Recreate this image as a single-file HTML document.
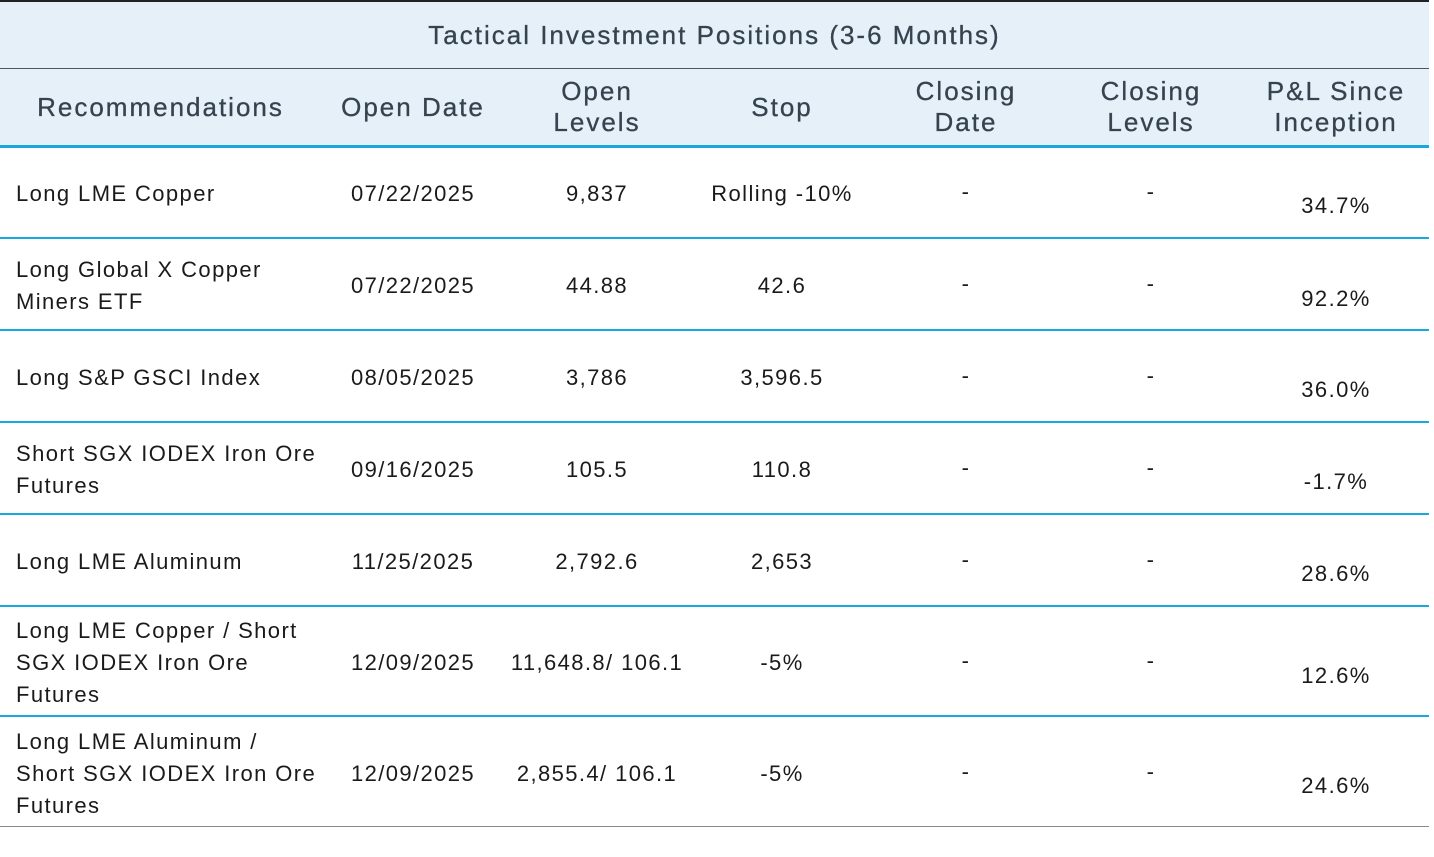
<!DOCTYPE html>
<html><head><meta charset="utf-8"><style>
body{margin:0;width:1434px;height:857px;background:#fff;font-family:"Liberation Sans",sans-serif;position:relative;overflow:hidden}
.a{position:absolute}
.t{position:absolute;color:#1a1a1a;font-size:22px;line-height:32px;letter-spacing:1.4px;white-space:nowrap}
.c{text-align:center;width:184px}
.h{position:absolute;color:#36434f;font-size:26px;line-height:31px;text-align:center;width:184px;letter-spacing:2px;white-space:nowrap;-webkit-text-stroke:0.3px #36434f}
</style></head><body>
<div class="a" style="left:0;top:0;width:1429px;height:2px;background:#222"></div>
<div class="a" style="left:0;top:2px;width:1429px;height:66px;background:#e5f0f9"></div>
<div class="a" style="left:0;top:68px;width:1429px;height:1px;background:#555"></div>
<div class="a" style="left:0;top:69px;width:1429px;height:77px;background:#e5f0f9"></div>
<div class="a" style="left:0;top:19px;width:1429px;text-align:center;font-size:26px;line-height:32px;color:#36434f;letter-spacing:2px;-webkit-text-stroke:0.3px #36434f">Tactical Investment Positions (3-6 Months)</div>
<div class="h" style="left:0;width:321px;top:92px">Recommendations</div>
<div class="h" style="left:321px;top:92px">Open Date</div>
<div class="h" style="left:505px;top:76px">Open<br>Levels</div>
<div class="h" style="left:690px;top:92px">Stop</div>
<div class="h" style="left:874px;top:76px">Closing<br>Date</div>
<div class="h" style="left:1059px;top:76px">Closing<br>Levels</div>
<div class="h" style="left:1244px;top:76px">P&amp;L Since<br>Inception</div>
<div class="a" style="left:0;top:145px;width:1429px;height:3px;background:#1aa7e0"></div>
<div class="a" style="left:0;top:237px;width:1429px;height:2px;background:#1aa7e0"></div>
<div class="a" style="left:0;top:329px;width:1429px;height:2px;background:#1aa7e0"></div>
<div class="a" style="left:0;top:421px;width:1429px;height:2px;background:#1aa7e0"></div>
<div class="a" style="left:0;top:513px;width:1429px;height:2px;background:#1aa7e0"></div>
<div class="a" style="left:0;top:605px;width:1429px;height:2px;background:#1aa7e0"></div>
<div class="a" style="left:0;top:715px;width:1429px;height:2px;background:#1aa7e0"></div>
<div class="a" style="left:0;top:826px;width:1429px;height:1px;background:#888"></div>

<div class="t" style="left:16px;top:178px">Long LME Copper</div>
<div class="t c" style="left:321px;top:178px">07/22/2025</div>
<div class="t c" style="left:505px;top:178px">9,837</div>
<div class="t c" style="left:690px;top:178px">Rolling -10%</div>
<div class="t c" style="left:874px;top:176px">-</div>
<div class="t c" style="left:1059px;top:176px">-</div>
<div class="t c" style="left:1244px;top:190px">34.7%</div>

<div class="t" style="left:16px;top:254px">Long Global X Copper<br>Miners ETF</div>
<div class="t c" style="left:321px;top:270px">07/22/2025</div>
<div class="t c" style="left:505px;top:270px">44.88</div>
<div class="t c" style="left:690px;top:270px">42.6</div>
<div class="t c" style="left:874px;top:268px">-</div>
<div class="t c" style="left:1059px;top:268px">-</div>
<div class="t c" style="left:1244px;top:283px">92.2%</div>

<div class="t" style="left:16px;top:362px">Long S&amp;P GSCI Index</div>
<div class="t c" style="left:321px;top:362px">08/05/2025</div>
<div class="t c" style="left:505px;top:362px">3,786</div>
<div class="t c" style="left:690px;top:362px">3,596.5</div>
<div class="t c" style="left:874px;top:360px">-</div>
<div class="t c" style="left:1059px;top:360px">-</div>
<div class="t c" style="left:1244px;top:374px">36.0%</div>

<div class="t" style="left:16px;top:438px">Short SGX IODEX Iron Ore<br>Futures</div>
<div class="t c" style="left:321px;top:454px">09/16/2025</div>
<div class="t c" style="left:505px;top:454px">105.5</div>
<div class="t c" style="left:690px;top:454px">110.8</div>
<div class="t c" style="left:874px;top:452px">-</div>
<div class="t c" style="left:1059px;top:452px">-</div>
<div class="t c" style="left:1244px;top:466px">-1.7%</div>

<div class="t" style="left:16px;top:546px">Long LME Aluminum</div>
<div class="t c" style="left:321px;top:546px">11/25/2025</div>
<div class="t c" style="left:505px;top:546px">2,792.6</div>
<div class="t c" style="left:690px;top:546px">2,653</div>
<div class="t c" style="left:874px;top:544px">-</div>
<div class="t c" style="left:1059px;top:544px">-</div>
<div class="t c" style="left:1244px;top:558px">28.6%</div>

<div class="t" style="left:16px;top:615px">Long LME Copper / Short<br>SGX IODEX Iron Ore<br>Futures</div>
<div class="t c" style="left:321px;top:647px">12/09/2025</div>
<div class="t c" style="left:505px;top:647px">11,648.8/ 106.1</div>
<div class="t c" style="left:690px;top:647px">-5%</div>
<div class="t c" style="left:874px;top:645px">-</div>
<div class="t c" style="left:1059px;top:645px">-</div>
<div class="t c" style="left:1244px;top:660px">12.6%</div>

<div class="t" style="left:16px;top:726px">Long LME Aluminum /<br>Short SGX IODEX Iron Ore<br>Futures</div>
<div class="t c" style="left:321px;top:758px">12/09/2025</div>
<div class="t c" style="left:505px;top:758px">2,855.4/ 106.1</div>
<div class="t c" style="left:690px;top:758px">-5%</div>
<div class="t c" style="left:874px;top:756px">-</div>
<div class="t c" style="left:1059px;top:756px">-</div>
<div class="t c" style="left:1244px;top:770px">24.6%</div>
</body></html>
